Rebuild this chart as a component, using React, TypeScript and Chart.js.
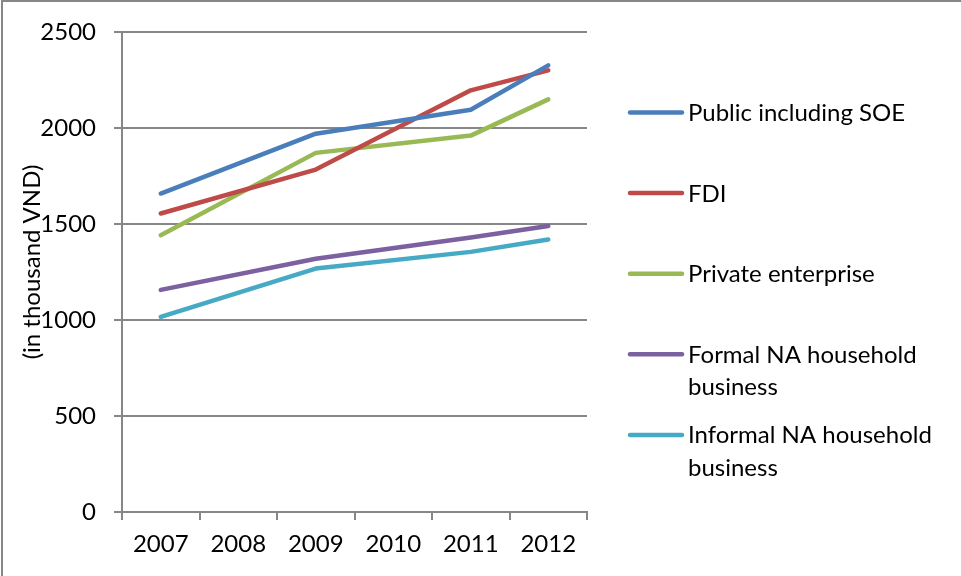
import React, { useEffect, useRef } from "react";
import { Chart, registerables } from "chart.js";

Chart.register(...registerables);

// ---- Data ----
const years = ["2007", "2008", "2009", "2010", "2011", "2012"];
const seriesNames = [
  "Public including SOE",
  "FDI",
  "Private enterprise",
  "Formal NA household business",
  "Informal NA household business",
];
const publicSOE = [1660, null, 1972, null, 2097, 2328];
const fdi = [1556, null, 1785, null, 2198, 2302];
const privateEnterprise = [1443, null, 1872, null, 1962, 2151];
const formalHousehold = [1158, null, 1320, null, 1431, 1491];
const informalHousehold = [1017, null, 1269, null, 1356, 1420];
const yTickValues = [0, 500, 1000, 1500, 2000, 2500];
const yAxisTitle = "(in thousand VND)";

// ---- Style ----
const seriesColors = ["#4A7EBB", "#BE4B48", "#98B954", "#7D60A0", "#46AAC5"];
const FONT_FAMILY = "Lato, 'Open Sans', sans-serif";
const FONT_SIZE = 24;
const GRID = "#878787";

function wrapText(ctx: CanvasRenderingContext2D, text: string, maxW: number): string[] {
  const words = text.split(" ");
  const lines: string[] = [];
  let cur = "";
  for (const w of words) {
    const t = cur ? cur + " " + w : w;
    if (ctx.measureText(t).width > maxW && cur) {
      lines.push(cur);
      cur = w;
    } else cur = t;
  }
  if (cur) lines.push(cur);
  return lines;
}

const decorPlugin = {
  id: "decor",
  afterDraw(chart: any) {
    const ctx: CanvasRenderingContext2D = chart.ctx;
    ctx.save();
    // outer frame (top and left edges visible)
    ctx.strokeStyle = GRID;
    ctx.lineWidth = 2;
    ctx.beginPath();
    ctx.moveTo(2, 577);
    ctx.lineTo(2, 1);
    ctx.lineTo(962, 1);
    ctx.stroke();

    // y axis title
    ctx.fillStyle = "#000";
    ctx.font = `${FONT_SIZE}px ${FONT_FAMILY}`;
    ctx.translate(32, 262);
    ctx.rotate(-Math.PI / 2);
    ctx.textAlign = "center";
    ctx.textBaseline = "middle";
    ctx.fillText(yAxisTitle, 0, 0);
    ctx.restore();

    // legend
    ctx.save();
    ctx.font = `${FONT_SIZE}px ${FONT_FAMILY}`;
    ctx.textAlign = "left";
    ctx.textBaseline = "alphabetic";
    const startY = 112.5;
    const stepY = 80.6;
    const lineX0 = 630;
    const lineX1 = 682;
    const textX = 688;
    const lineGap = 32.5;
    chart.data.datasets.forEach((ds: any, i: number) => {
      const y = startY + i * stepY;
      ctx.strokeStyle = ds.borderColor;
      ctx.lineWidth = 4.5;
      ctx.lineCap = "round";
      ctx.beginPath();
      ctx.moveTo(lineX0, y);
      ctx.lineTo(lineX1, y);
      ctx.stroke();
      ctx.fillStyle = "#000";
      const lines = wrapText(ctx, ds.label, 961 - textX - 6);
      lines.forEach((ln, j) => {
        ctx.fillText(ln, textX, y + 8.5 + j * lineGap);
      });
    });
    ctx.restore();
  },
};

export default function App() {
  const ref = useRef<HTMLCanvasElement>(null);
  useEffect(() => {
    const canvas = ref.current!;
    const allSeries = [publicSOE, fdi, privateEnterprise, formalHousehold, informalHousehold];
    const chart = new Chart(canvas, {
      type: "line",
      data: {
        labels: years,
        datasets: allSeries.map((d, i) => ({
          label: seriesNames[i],
          data: d,
          borderColor: seriesColors[i],
          backgroundColor: seriesColors[i],
          borderWidth: 4.5,
          borderCapStyle: "round" as const,
          borderJoinStyle: "round" as const,
          pointRadius: 0,
          pointHoverRadius: 0,
          spanGaps: true,
          tension: 0,
          fill: false,
        })),
      },
      options: {
        responsive: false,
        animation: false,
        devicePixelRatio: 1,
        layout: { padding: { left: 0, top: 32, right: 374, bottom: 0 } },
        plugins: {
          legend: { display: false },
          tooltip: { enabled: false },
          title: { display: false },
        },
        scales: {
          x: {
            type: "category",
            offset: true,
            grid: {
              offset: true,
              drawOnChartArea: false,
              drawTicks: true,
              tickLength: 8,
              color: GRID,
              lineWidth: 2,
            },
            border: { display: true, color: GRID, width: 2 },
            ticks: {
              color: "#000",
              padding: 10,
              maxRotation: 0,
              font: { family: FONT_FAMILY, size: FONT_SIZE },
            },
            afterFit: (s: any) => {
              s.height = 64;
            },
          },
          y: {
            min: 0,
            max: 2500,
            afterBuildTicks: (s: any) => {
              s.ticks = yTickValues.map((v) => ({ value: v }));
            },
            grid: {
              color: GRID,
              lineWidth: 2,
              drawTicks: true,
              tickLength: 8,
            },
            border: { display: true, color: GRID, width: 2 },
            ticks: {
              color: "#000",
              padding: 18,
              font: { family: FONT_FAMILY, size: FONT_SIZE },
              callback: (v: any) => String(v),
            },
            afterFit: (s: any) => {
              s.width = 122;
            },
          },
        },
      },
      plugins: [decorPlugin],
    });
    return () => chart.destroy();
  }, []);
  return (
    <div style={{ position: "fixed", left: 0, top: 0, width: 961, height: 576, background: "#fff" }}>
      <canvas ref={ref} width={961} height={576} style={{ display: "block" }} />
    </div>
  );
}
